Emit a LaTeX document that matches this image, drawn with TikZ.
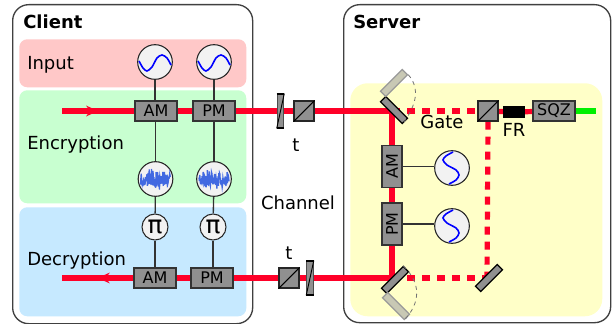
\documentclass[tikz,border=0pt]{standalone}
\usepackage{fontspec}
\setmainfont{DejaVu Sans}
\usepackage{tikz}
\usetikzlibrary{arrows.meta}
\usetikzlibrary{decorations.markings}
\definecolor{beamred}{HTML}{FF0028}
\definecolor{beamgreen}{HTML}{00F000}
\definecolor{boxgray}{HTML}{909090}
\definecolor{noiseblue}{HTML}{4169E1}
\definecolor{inputpink}{HTML}{FFC8C8}
\definecolor{encgreen}{HTML}{C8FFD0}
\definecolor{decblue}{HTML}{C6E9FF}
\definecolor{serveryellow}{HTML}{FFFFC8}
\definecolor{ghostgray}{HTML}{C8C8B4}
\pgfdeclarelayer{panels}
\pgfdeclarelayer{beams}
\pgfsetlayers{panels,beams,main}
\tikzstyle{site} = [rectangle, rounded corners=12pt, draw=black!75, line width=1pt, fill=white]
\tikzstyle{panel} = [rectangle, rounded corners=6pt]
\tikzstyle{caption} = [inner sep=0pt, anchor=base, font=\fontsize{13.5}{16}\selectfont]
\tikzstyle{leftcaption} = [caption, anchor=base west]
\tikzstyle{title} = [leftcaption, font=\fontsize{13.5}{16}\selectfont\bfseries]
\tikzstyle{modbox} = [rectangle, draw=black!80, line width=.9pt, fill=boxgray, inner sep=0pt, minimum width=31.5pt, minimum height=15pt, font=\fontsize{12}{14}\selectfont]
\tikzstyle{modboxv} = [modbox, rotate=90]
\tikzstyle{cube} = [rectangle, draw=black!85, line width=.9pt, fill=boxgray, inner sep=0pt, minimum width=15pt, minimum height=15pt]
\tikzstyle{plate} = [rectangle, draw=black!70, line width=.7pt, fill=boxgray, inner sep=0pt, minimum width=5pt, minimum height=25.5pt]
\tikzstyle{mirror} = [rectangle, draw=black, line width=.9pt, fill=boxgray, inner sep=0pt, minimum width=23pt, minimum height=5.5pt]
\tikzstyle{ghost} = [rectangle, draw=gray!80, line width=.9pt, fill=ghostgray, inner sep=0pt, minimum width=23pt, minimum height=5.5pt]
\tikzstyle{source} = [circle, draw=black!85, line width=.8pt, fill=black!5, inner sep=0pt, minimum size=26pt]
\tikzstyle{shifter} = [source, minimum size=19.5pt, font=\fontsize{18.5}{20}\selectfont]
\tikzstyle{isolator} = [rectangle, fill=black, inner sep=0pt, minimum width=16pt, minimum height=9pt]
\tikzstyle{wire} = [draw=black!80, line width=1pt]
\tikzstyle{beam} = [draw=beamred, line width=3.9pt]
\tikzstyle{gatebeam} = [beam, dash pattern=on 6pt off 5.25pt]
\tikzstyle{greenbeam} = [draw=beamgreen, line width=3.9pt]
\tikzstyle{swing} = [draw=black!55, line width=.6pt, dashed]
\tikzstyle{flow} = [postaction={decorate}, decoration={markings, mark=at position 0.5 with {\arrow{Stealth[length=9pt, width=8pt, color=beamred]}}}]
\newcommand{\sinewave}[2]{\draw[blue, line width=1.2pt, shift={(#1)}, rotate=#2] plot[smooth] coordinates {(-16,-1) (-12,6) (-8,9) (-3,5) (2,-4) (7,-7) (12,-4) (16,3)};}
\newcommand{\noisewave}[2]{\pgfmathsetseed{#2}\draw[noiseblue, line width=1pt, shift={(#1)}] plot[domain=-15:15, samples=80] (\x,{(rnd-.5)*(12+12*rnd)*(1-\x*\x/600)});}

\begin{document}
\begin{tikzpicture}[x=.75pt, y=-.75pt]
  \useasboundingbox (0,0) rectangle (616,324);

  \begin{pgfonlayer}{panels}
    \node(client)[site, minimum width=180pt, minimum height=239.25pt, anchor=north west] at (12,4){};
    \node(server)[site, minimum width=200.25pt, minimum height=238.5pt, anchor=north west] at (343,4){};
    \node(inputpanel)[panel, fill=inputpink, minimum width=170.25pt, minimum height=36pt, anchor=north west] at (19,39){};
    \node(encpanel)[panel, fill=encgreen, minimum width=170.25pt, minimum height=84.75pt, anchor=north west] at (19,90){};
    \node(decpanel)[panel, fill=decblue, minimum width=170.25pt, minimum height=81.75pt, anchor=north west] at (19,207){};
    \node(serverpanel)[panel, rounded corners=13pt, fill=serveryellow, minimum width=189pt, minimum height=174.75pt, anchor=north west] at (350,83){};
  \end{pgfonlayer}

  \node(clienttitle)[title] at (23,29){Client};
  \node(servertitle)[title] at (353,29){Server};
  \node(inputlabel)[leftcaption] at (27,70){Input};
  \node(enclabel)[leftcaption] at (27,149){Encryption};
  \node(declabel)[leftcaption] at (27,265){Decryption};
  \node(channellabel)[caption] at (298,209){Channel};
  \node(ttop)[caption] at (296,151){t};
  \node(tbottom)[caption] at (289,259){t};
  \node(gatelabel)[caption] at (442,128){Gate};
  \node(frlabel)[caption] at (514,137){FR};

  % client
  \node(sine1)[source] at (155,62){};
  \node(sine2)[source] at (214,62){};
  \node(am1)[modbox] at (156,111){AM};
  \node(pm1)[modbox] at (214,111){PM};
  \node(noise1)[source] at (155.5,179){};
  \node(noise2)[source] at (214,179){};
  \node(pi1)[shifter] at (155,227){π};
  \node(pi2)[shifter] at (213,227){π};
  \node(am2)[modbox] at (155,278){AM};
  \node(pm2)[modbox] at (212,278){PM};
  \sinewave{sine1}{0}
  \sinewave{sine2}{0}
  \noisewave{noise1}{3}
  \noisewave{noise2}{8}

  % channel
  \node(plate1)[plate] at (280.5,111){};
  \node(cube1)[cube] at (304,111){};
  \node(cube2)[cube] at (289,278){};
  \node(plate2)[plate] at (310,278){};
  \foreach \plate in {plate1, plate2}{
    \draw[line width=.7pt] (\plate.south west) -- (\plate.north east);
    \draw[line width=1.5pt] (\plate.south west) -- (\plate.south east);
    \draw[line width=1.5pt] (\plate.north west) -- (\plate.north east);
  }
  \draw[line width=.8pt] (cube1.south west) -- (cube1.north east);
  \draw[line width=.8pt] (cube2.south west) -- (cube2.north east);

  % server
  \node(mirror1)[mirror, rotate=-45] at (394,110){};
  \node(ghost1)[ghost, rotate=45] at (394,83){};
  \node(mirror2)[mirror, rotate=45] at (395,280){};
  \node(ghost2)[ghost, rotate=-45] at (396,306){};
  \node(mirror3)[mirror, rotate=45] at (489,278){};
  \node(am3)[modboxv] at (392,166.5){AM};
  \node(pm3)[modboxv] at (392,224){PM};
  \node(sine3)[source] at (452,168){};
  \node(sine4)[source] at (452,226){};
  \node(cube3)[cube] at (488,111){};
  \node(fr)[isolator] at (514,112){};
  \node(sqz)[modbox] at (554,111){SQZ};
  \draw[line width=.8pt] (cube3.south west) -- (cube3.north east);
  \sinewave{sine3}{-90}
  \sinewave{sine4}{-90}

  \coordinate(start1) at (62,111);
  \coordinate(start2) at (62,278);
  \coordinate(knee1) at (392,111);
  \coordinate(knee2) at (392,278);
  \coordinate(knee3) at (487,278);
  \coordinate(greenend) at (596,111);

  \begin{pgfonlayer}{beams}
    \path (start1) edge[beam, flow] (am1);
    \path (am1) edge[beam] (pm1);
    \path (pm1) edge[beam] (plate1);
    \path (plate1) edge[beam] (cube1);
    \path (cube1) edge[beam] (knee1);
    \path (knee1) edge[beam] (am3);
    \path (am3) edge[beam] (pm3);
    \path (pm3) edge[beam] (knee2);
    \path (am2) edge[beam, flow] (start2);
    \path (am2) edge[beam] (pm2);
    \path (pm2) edge[beam] (cube2);
    \path (cube2) edge[beam] (plate2);
    \path (plate2) edge[beam] (knee2);
    \path (knee1) edge[gatebeam] (cube3);
    \path (knee2) edge[gatebeam] (knee3);
    \path (cube3 |- cube3.south) edge[gatebeam] (knee3);
    \path (cube3) edge[beam] (fr);
    \path (fr) edge[beam] (sqz);
    \path (sqz) edge[greenbeam] (greenend);
  \end{pgfonlayer}

  \path (sine1) edge[wire] (sine1 |- am1.north);
  \path (sine2) edge[wire] (sine2 |- pm1.north);
  \draw[wire] (am1.south -| noise1) -- (noise1);
  \draw[wire] (pm1) -- (noise2);
  \draw[wire] (noise1) -- (pi1);
  \draw[wire] (noise2) -- (pi2);
  \draw[wire] (pi1) -- (am2);
  \draw[wire] (pi2) -- (pi2 |- pm2.north);
  \draw[wire] (am3.south) -- (am3.south -| sine3.west);
  \draw[wire] (pm3.south) -- (pm3.south -| sine4.west);

  \draw[swing] (ghost1.south east) .. controls (420,88) and (417,105) .. (mirror1.south east);
  \draw[swing] (mirror2.north east) .. controls (421,283) and (421,302) .. (ghost2.south east);
\end{tikzpicture}
\end{document}
